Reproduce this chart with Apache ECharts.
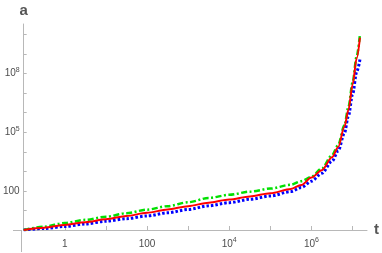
<!DOCTYPE html>
<html>
<head>
<meta charset="utf-8">
<script src="https://cdn.jsdelivr.net/npm/echarts@6/dist/echarts.min.js"></script>
<style>
html,body{margin:0;padding:0;background:#fff;}
#c{width:382px;height:253px;}
</style>
</head>
<body>
<div id="c"></div>
<script>
// time values t (shared by all three curves)
const tValues = [0.1, 0.316, 1, 3.16, 10, 31.6, 100, 316, 1000, 3160, 1e4, 3.16e4, 1e5, 3.16e5, 5.62e5, 1e6, 1.78e6, 3.16e6, 4.47e6, 6.31e6, 7.94e6, 1e7, 1.26e7, 1.51e7];
// a(t) curves
const redA   = [1, 1.32, 1.82, 2.51, 3.55, 5.25, 7.59, 11.2, 16.6, 25.1, 36.3, 52.5, 75.9, 126, 200, 479, 1150, 5250, 17800, 1.9e5, 1.41e6, 2.82e7, 6.31e8, 6.92e9];
const blueA  = [1, 1.2, 1.51, 2.04, 2.82, 3.8, 5.25, 7.59, 11.2, 17.4, 25.1, 37.2, 55, 93.3, 151, 316, 794, 3310, 11200, 89100, 7.08e5, 8.91e6, 1.26e8, 5.25e8];
const greenA = [1, 1.48, 2.29, 3.31, 4.79, 7.24, 11.0, 16.6, 26.3, 43.7, 63.1, 91.2, 132, 209, 316, 525, 1410, 6760, 22400, 2.24e5, 2.0e6, 3.55e7, 7.94e8, 1e10];

// axis ticks and labels ([base, superscript])
const xTickValues = [0.1, 1, 10, 100, 1000, 1e4, 1e5, 1e6, 1e7];
const xLabelValues = [1, 100, 1e4, 1e6];
const xLabelTexts = [['1', ''], ['100', ''], ['10', '4'], ['10', '6']];
const yTickValues = [1, 10, 100, 1000, 1e4, 1e5, 1e6, 1e7, 1e8, 1e9, 1e10];
const yLabelValues = [100, 1e5, 1e8];
const yLabelTexts = [['100', ''], ['10', '5'], ['10', '8']];

function pairs(ys) { return tValues.map((t, i) => [t, ys[i]]); }
function labelFor(values, texts) {
  return function (v) {
    for (let i = 0; i < values.length; i++) {
      if (Math.abs(Math.log10(v) - Math.log10(values[i])) < 1e-6) {
        const tx = texts[i];
        return '{b|' + tx[0] + '}' + (tx[1] ? '{s|' + tx[1] + '}' : '');
      }
    }
    return '';
  };
}
const richLabel = {
  b: {fontFamily: 'Liberation Sans', fontSize: 10, lineHeight: 14, verticalAlign: 'middle', color: '#4d4d4d'},
  s: {fontFamily: 'Liberation Sans', fontSize: 7, lineHeight: 7, verticalAlign: 'top', color: '#4d4d4d'}
};

const axisColor = '#b8b8b8';
const chart = echarts.init(document.getElementById('c'), null, {renderer: 'canvas'});
chart.setOption({
  animation: false,
  grid: {left: 21, top: 24, right: 15, bottom: 23, containLabel: false},
  xAxis: {
    type: 'log', logBase: 10, min: 0.1, max: 2.24e7,
    name: 't', nameLocation: 'end', nameGap: 7,
    nameTextStyle: {fontFamily: 'Liberation Sans', fontSize: 15, fontWeight: 'bold', color: '#555'},
    axisLine: {show: true, lineStyle: {color: axisColor, width: 1}},
    axisTick: {show: true, inside: true, length: 4, customValues: xTickValues, lineStyle: {color: axisColor}},
    minorTick: {show: false},
    axisLabel: {customValues: xLabelValues, formatter: labelFor(xLabelValues, xLabelTexts), margin: 7, rich: richLabel},
    splitLine: {show: false}
  },
  yAxis: {
    type: 'log', logBase: 10, min: 1, max: 3.47e10,
    name: 'a', nameLocation: 'end', nameGap: 6,
    nameTextStyle: {fontFamily: 'Liberation Sans', fontSize: 15, fontWeight: 'bold', color: '#555', align: 'center'},
    axisLine: {show: true, lineStyle: {color: axisColor, width: 1}},
    axisTick: {show: true, inside: true, length: 3, customValues: yTickValues, lineStyle: {color: axisColor}},
    axisLabel: {customValues: yLabelValues, formatter: labelFor(yLabelValues, yLabelTexts), margin: 4, rich: richLabel},
    splitLine: {show: false}
  },
  graphic: [
    {type: 'line', shape: {x1: 13, y1: 230.5, x2: 21, y2: 230.5}, style: {stroke: axisColor, lineWidth: 1}, silent: true},
    {type: 'line', shape: {x1: 21.5, y1: 230, x2: 21.5, y2: 252}, style: {stroke: axisColor, lineWidth: 1}, silent: true}
  ],
  series: [
    {type: 'line', data: pairs(blueA), showSymbol: false, smooth: 0.3, smoothMonotone: 'x',
      lineStyle: {color: '#0000ff', width: 3, type: [2.5, 2], cap: 'butt'}},
    {type: 'line', data: pairs(greenA), showSymbol: false, smooth: 0.3, smoothMonotone: 'x',
      lineStyle: {color: '#00e000', width: 2.5, type: [6, 2.5, 2, 2.5], cap: 'butt'}},
    {type: 'line', data: pairs(redA), showSymbol: false, smooth: 0.3, smoothMonotone: 'x',
      lineStyle: {color: '#ff0000', width: 2}}
  ]
});
</script>
</body>
</html>
